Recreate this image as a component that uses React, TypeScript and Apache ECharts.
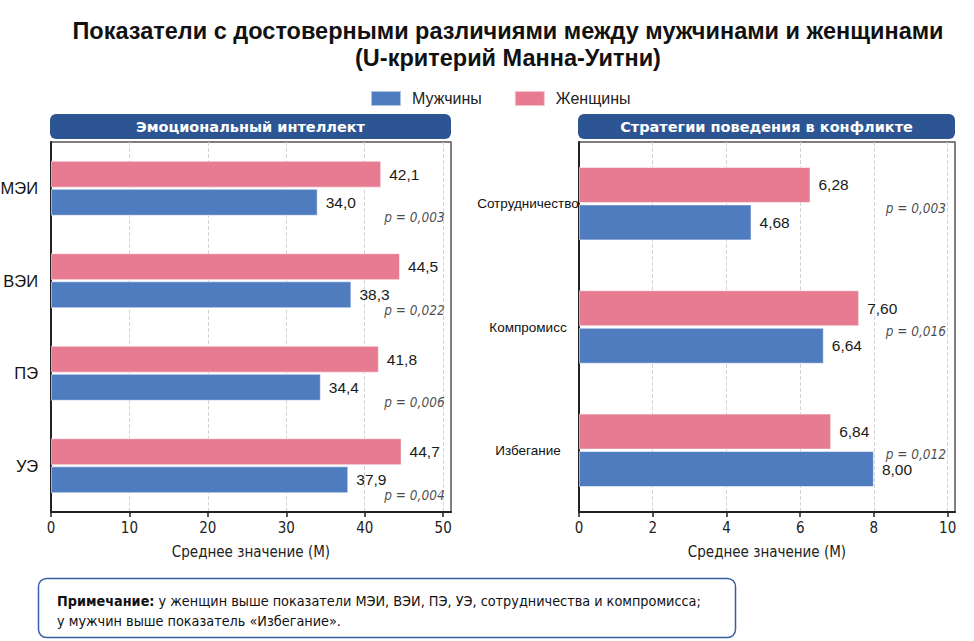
import React, { useEffect, useRef } from "react";
import * as echarts from "echarts";

// Emotional intelligence scales (left panel)
const eiCategories = ["МЭИ", "ВЭИ", "ПЭ", "УЭ"];
const eiMen = [34.0, 38.3, 34.4, 37.9];
const eiWomen = [42.1, 44.5, 41.8, 44.7];
const eiP = ["p = 0,003", "p = 0,022", "p = 0,006", "p = 0,004"];
const eiTicks = [0, 10, 20, 30, 40, 50];

// Conflict behaviour strategies (right panel)
const csCategories = ["Сотрудничество", "Компромисс", "Избегание"];
const csMen = [4.68, 6.64, 8.0];
const csWomen = [6.28, 7.6, 6.84];
const csP = ["p = 0,003", "p = 0,016", "p = 0,012"];
const csTicks = [0, 2, 4, 6, 8, 10];

const BLUE = "#4f7bbf";
const PINK = "#e67b91";
const NAVY = "#2e5593";
const SANS = "'DejaVu Sans Condensed', 'Noto Sans', sans-serif";
const ARIAL = "'Liberation Sans', Arial, sans-serif";

const fmt = (digits: number) => (p: any) =>
  Number(p.value).toFixed(digits).replace(".", ",");

function xAxisFor(gridIndex: number, max: number, interval: number, ticks: number[]) {
  return {
    type: "value",
    gridIndex,
    min: 0,
    max,
    interval,
    name: "Среднее значение (М)",
    nameLocation: "middle",
    nameGap: 32,
    nameTextStyle: { fontFamily: SANS, fontSize: 15, color: "#222" },
    axisLine: { show: true, lineStyle: { color: "#222", width: 2 } },
    axisTick: { show: true, length: 5, customValues: ticks, lineStyle: { color: "#222", width: 1.5 } },
    axisLabel: {
      customValues: ticks,
      fontFamily: SANS,
      fontSize: 15,
      color: "#222",
      margin: 8,
      formatter: (v: number) => (ticks.includes(v) ? String(v) : ""),
    },
    splitLine: { show: true, lineStyle: { color: "#d4d4d4", type: "dashed", width: 1 } },
  };
}

function yAxisFor(gridIndex: number, data: string[], label: any) {
  return {
    type: "category",
    gridIndex,
    data,
    inverse: true,
    axisLine: { show: true, lineStyle: { color: "#222", width: 2 } },
    axisTick: { show: false },
    axisLabel: { color: "#111", fontFamily: ARIAL, ...label },
  };
}

function barSeries(name: string, color: string, idx: number, data: number[], width: number, digits: number) {
  return {
    name,
    type: "bar",
    xAxisIndex: idx,
    yAxisIndex: idx,
    data,
    barWidth: width,
    barGap: "4%",
    itemStyle: { color, borderColor: "rgba(255,255,255,0.55)", borderWidth: 1 },
    label: {
      show: true,
      position: "right",
      distance: 8,
      formatter: fmt(digits),
      fontFamily: ARIAL,
      fontSize: 15.5,
      color: "#1a1a1a",
    },
  };
}

function pSeries(idx: number, x: number, labels: string[], dy: number) {
  return {
    name: "p" + idx,
    type: "scatter",
    xAxisIndex: idx,
    yAxisIndex: idx,
    symbol: "circle",
    symbolSize: 1,
    silent: true,
    itemStyle: { color: "rgba(0,0,0,0)" },
    data: labels.map((_, i) => [x, i]),
    label: {
      show: true,
      position: "left",
      distance: 0,
      offset: [0, dy],
      formatter: (p: any) => labels[p.dataIndex],
      fontFamily: SANS,
      fontStyle: "italic",
      fontSize: 13.5,
      color: "#1a1a1a",
    },
  };
}

function header(x: number, w: number, text: string) {
  return {
    type: "group",
    children: [
      { type: "rect", shape: { x, y: 114, width: w, height: 25, r: 6 }, style: { fill: NAVY } },
      {
        type: "text",
        x: x + w / 2,
        y: 126.5,
        style: {
          text,
          fill: "#fff",
          font: "bold 14.5px 'DejaVu Sans', sans-serif",
          textAlign: "center",
          textVerticalAlign: "middle",
        },
      },
    ],
  };
}

const gridBase = {
  top: 142,
  height: 370,
  show: true,
  borderColor: "#555",
  borderWidth: 1.5,
  backgroundColor: "#fff",
  containLabel: false,
  outerBoundsMode: "none",
};

export default function App() {
  const ref = useRef<HTMLDivElement>(null);

  useEffect(() => {
    if (!ref.current) return;
    const chart = echarts.init(ref.current, undefined, { renderer: "svg" });
    chart.setOption({
      animation: false,
      backgroundColor: "#fff",
      legend: {
        left: 365,
        top: 85,
        itemWidth: 30,
        itemHeight: 15,
        itemGap: 32,
        icon: "rect",
        data: ["Мужчины", "Женщины"],
        textStyle: { fontFamily: ARIAL, fontSize: 16, color: "#222", padding: [0, 0, 0, 6] },
      },
      grid: [
        { ...gridBase, left: 51, width: 400 },
        { ...gridBase, left: 579, width: 376 },
      ],
      xAxis: [xAxisFor(0, 51, 10, eiTicks), xAxisFor(1, 10.2, 2, csTicks)],
      yAxis: [
        yAxisFor(0, eiCategories, { fontSize: 16.5, margin: 13 }),
        yAxisFor(1, csCategories, { fontSize: 13.5, margin: 51, align: "center" }),
      ],
      // women's bars are listed first so they sit above the men's bars in each band
      series: [
        barSeries("Женщины", PINK, 0, eiWomen, 27, 1),
        barSeries("Мужчины", BLUE, 0, eiMen, 27, 1),
        barSeries("Женщины", PINK, 1, csWomen, 36, 2),
        barSeries("Мужчины", BLUE, 1, csMen, 36, 2),
        pSeries(0, 50.25, eiP, 29),
        pSeries(1, 9.97, csP, 4),
      ],
      graphic: [
        {
          type: "text",
          x: 508,
          y: 17,
          style: {
            text: "Показатели с достоверными различиями между мужчинами и женщинами\n(U-критерий Манна-Уитни)",
            font: "bold 23.5px 'Liberation Sans', Arial, sans-serif",
            fill: "#111",
            textAlign: "center",
            lineHeight: 27,
          },
        },
        header(50, 401, "Эмоциональный интеллект"),
        header(578, 377, "Стратегии поведения в конфликте"),
        {
          type: "rect",
          shape: { x: 38.5, y: 578.5, width: 697, height: 59, r: 8 },
          style: { fill: "#fff", stroke: "#3a5fa0", lineWidth: 1.5 },
        },
        {
          type: "text",
          x: 57,
          y: 591,
          style: {
            text:
              "{b|Примечание:} у женщин выше показатели МЭИ, ВЭИ, ПЭ, УЭ, сотрудничества и компромисса;\nу мужчин выше показатель «Избегание».",
            font: "14.3px " + SANS,
            fill: "#111",
            lineHeight: 20,
            rich: {
              b: { fontWeight: "bold", fontFamily: SANS, fontSize: 14.3, fill: "#111" },
            },
          },
        },
      ],
    });
    return () => chart.dispose();
  }, []);

  return (
    <div
      ref={ref}
      style={{ position: "fixed", left: 0, top: 0, width: 974, height: 641, background: "#fff" }}
    />
  );
}
